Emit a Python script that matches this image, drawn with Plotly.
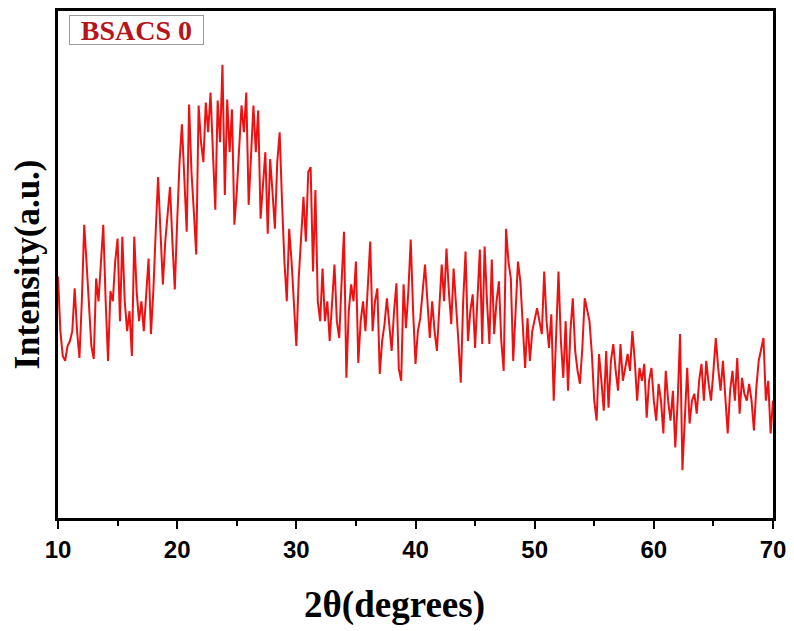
import numpy as np
import plotly.graph_objects as go

# 2theta grid (degrees), 0.2 deg step from 10 to 70
two_theta_start = 10.0
two_theta_step = 0.2

# Intensity (a.u.), one value per 0.2 deg
intensity = [
    243, 188, 163, 158, 173, 178, 188, 231, 188, 161, 218,
    295, 256, 218, 173, 160, 241, 218, 263, 295, 218,
    158, 228, 218, 258, 281, 198, 283, 218, 188, 208,
    163, 283, 228, 198, 218, 188, 228, 261, 185, 228,
    288, 343, 288, 235, 278, 308, 333, 278, 230, 298,
    358, 396, 338, 288, 416, 348, 308, 265, 415, 378,
    358, 418, 388, 428, 368, 310, 420, 378, 456, 325,
    421, 368, 411, 295, 328, 368, 415, 388, 428, 315,
    368, 415, 368, 410, 301, 338, 368, 286, 361, 328,
    291, 358, 388, 318, 258, 218, 291, 258, 218, 173,
    241, 278, 323, 278, 348, 353, 248, 330, 218, 198,
    251, 198, 218, 178, 218, 255, 198, 181, 238, 288,
    141, 208, 235, 218, 258, 156, 198, 218, 188, 238,
    278, 188, 218, 231, 145, 178, 195, 221, 198, 168,
    208, 236, 150, 138, 235, 191, 228, 280, 208, 155,
    188, 201, 228, 255, 218, 181, 218, 188, 168, 218,
    255, 218, 271, 228, 195, 251, 218, 178, 136, 218,
    268, 178, 208, 225, 171, 228, 270, 175, 273, 218,
    175, 260, 185, 218, 238, 178, 148, 291, 258, 241,
    158, 208, 258, 238, 188, 151, 201, 158, 188, 198,
    211, 198, 185, 248, 198, 171, 205, 118, 188, 248,
    178, 141, 198, 128, 188, 221, 168, 148, 135, 171,
    221, 208, 198, 165, 118, 98, 165, 138, 108, 168,
    111, 158, 175, 148, 128, 175, 138, 151, 165, 148,
    188, 158, 118, 151, 138, 155, 101, 138, 151, 118,
    98, 135, 118, 85, 148, 118, 98, 128, 71, 118,
    185, 48, 98, 151, 95, 118, 125, 105, 138, 155,
    118, 158, 135, 118, 148, 181, 151, 128, 158, 118,
    85, 128, 148, 118, 161, 105, 141, 125, 118, 135,
    118, 88, 131, 158, 168, 181, 118, 138, 85, 118,
]

two_theta = two_theta_start + two_theta_step * np.arange(len(intensity))

x_tickvals = [10, 20, 30, 40, 50, 60, 70]
x_ticktext = ["10", "20", "30", "40", "50", "60", "70"]
sample_label = "BSACS 0"
x_title = "2θ(degrees)"
y_title = "Intensity(a.u.)"

fig = go.Figure()
fig.add_trace(go.Scatter(
    x=two_theta, y=intensity, mode="lines",
    line=dict(color="#ee1111", width=2),
    showlegend=False,
))

fig.update_layout(
    width=794, height=631,
    margin=dict(l=58, r=17, t=8, b=113),
    paper_bgcolor="white", plot_bgcolor="white",
    showlegend=False,
)

fig.update_xaxes(
    range=[10, 70],
    tickvals=x_tickvals, ticktext=x_ticktext,
    ticks="outside", ticklen=8, tickwidth=2, tickcolor="black",
    minor=dict(dtick=5, tick0=5, ticks="outside", ticklen=5, tickwidth=2, tickcolor="black", showgrid=False),
    showline=True, linewidth=2.5, linecolor="black", mirror=True,
    showgrid=False, zeroline=False,
    tickfont=dict(family="Liberation Sans, Arial", size=24, color="black", weight="bold"),
)

fig.update_yaxes(
    range=[0, 510],
    showticklabels=False, ticks="",
    showline=True, linewidth=2.5, linecolor="black", mirror=True,
    showgrid=False, zeroline=False,
    title=dict(text=y_title, standoff=6,
               font=dict(family="Liberation Serif, Times New Roman", size=35, color="black", weight="bold")),
)

fig.add_annotation(
    xref="paper", yref="paper", x=0.471, y=-0.172, xanchor="center", yanchor="middle",
    text=x_title, showarrow=False,
    font=dict(family="Liberation Serif, Times New Roman", size=37, color="black", weight="bold"),
)

fig.add_annotation(
    xref="paper", yref="paper", x=0.016, y=0.993, xanchor="left", yanchor="top",
    text=sample_label, showarrow=False, width=131, height=26, align="center",
    font=dict(family="Liberation Serif, Times New Roman", size=28, color="#b5161c", weight="bold"),
    bordercolor="#9a9a9a", borderwidth=1, borderpad=1, bgcolor="white",
)

fig.write_html("out.html")
